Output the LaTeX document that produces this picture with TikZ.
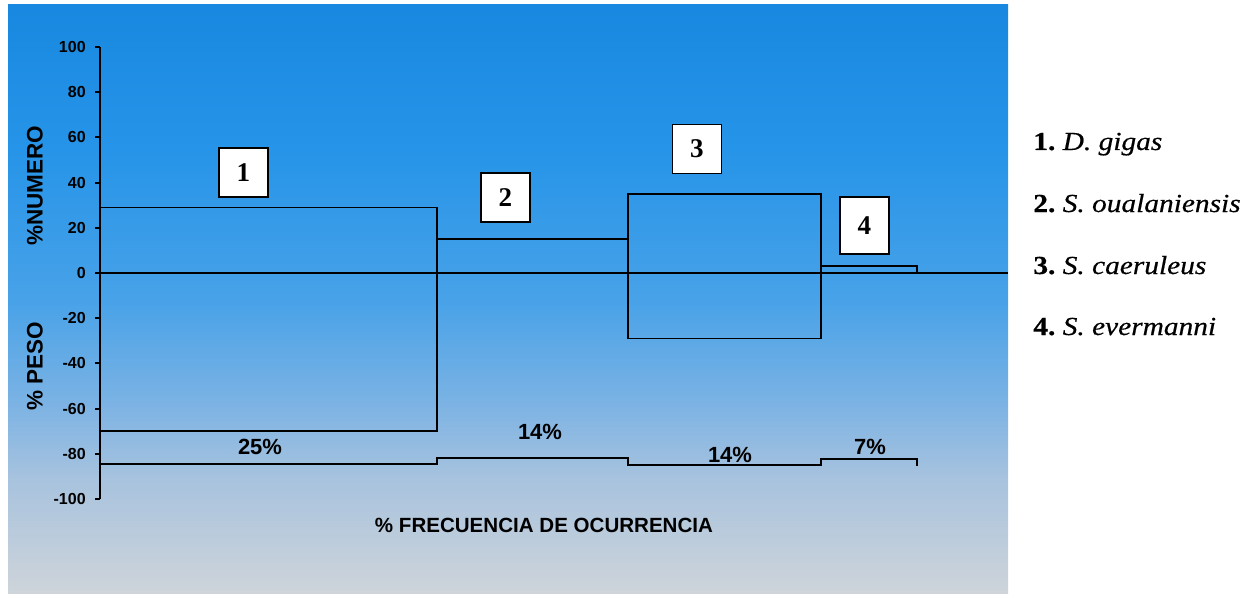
\documentclass[tikz,border=0pt]{standalone}
\usepackage{fontspec}
\setmainfont{Liberation Serif}
\newfontfamily\chartsans{Liberation Sans}
\newfontfamily\specfont[FakeStretch=1.13,FakeBold=0.5]{Liberation Serif}
\usetikzlibrary{positioning}

\definecolor{skytop}{RGB}{24,136,224}
\definecolor{skyhigh}{RGB}{38,148,232}
\definecolor{skymid}{RGB}{72,162,232}
\definecolor{skylow}{RGB}{122,178,228}
\definecolor{skyfade}{RGB}{168,195,222}
\definecolor{skybot}{RGB}{206,212,218}

\pgfdeclareverticalshading{panelfade}{100bp}{color(0bp)=(skybot); color(25bp)=(skybot);
  color(34.6bp)=(skyfade); color(41.4bp)=(skylow); color(49.9bp)=(skymid);
  color(62.7bp)=(skyhigh); color(75bp)=(skytop); color(100bp)=(skytop)}

\tikzset{
  bar/.style={line width=1.1pt},
  tagbox/.style={draw,line width=1.1pt,fill=white,minimum width=0.98cm,minimum height=0.98cm,inner sep=0pt,font=\fontsize{15.4}{15.4}\selectfont\bfseries},
  ticklab/.style={anchor=east,inner sep=0pt,font=\chartsans\bfseries\fontsize{9.1}{9.1}\selectfont},
  pctlab/.style={inner sep=0pt,font=\chartsans\bfseries\fontsize{12.5}{12.5}\selectfont},
  axtitle/.style={inner sep=0pt,rotate=90,font=\chartsans\bfseries\fontsize{12.8}{12.8}\selectfont},
  speclab/.style={anchor=base west,inner sep=0pt,font=\specfont\fontsize{14.8}{14.8}\selectfont}
}

\begin{document}
\begin{tikzpicture}[x=0.02cm,y=-0.02cm]
  \useasboundingbox (0,0) rectangle (1257,598);
  \shade[shading=panelfade] (8,5) rectangle (1008,593);

  % chart, y in data units
  \begin{scope}[shift={(0,273)},y=0.0452cm]
    \draw[bar] (100,100) -- (100,-100);
    \foreach \v [count=\i] in {-100,-80,...,100} {
      \draw[bar] (95,\v) -- (100,\v);
      \node[ticklab] (tick\i) at (86,\v) {\v};
    }
    \draw[bar] (100,0) -- (1008,0);

    \draw[bar] (100,-70) rectangle (437,29);
    \draw[bar] (437,15) -- (628,15);
    \draw[bar] (628,-29) rectangle (821,35);
    \draw[bar] (821,3) -- (917,3) -- (917,0);

    % frecuencia
    \draw[bar] (100,-84.5) -- (437,-84.5) -- (437,-82) -- (628,-82) -- (628,-85)
      -- (821,-85) -- (821,-82.3) -- (917,-82.3) -- (917,-85.2);
  \end{scope}

  \node[pctlab] (pct1) at (260,447) {25\%};
  \node[pctlab] (pct2) at (540,432) {14\%};
  \node[pctlab] (pct3) at (730,455) {14\%};
  \node[pctlab] (pct4) at (870,447) {7\%};

  \node[tagbox] (tag1) at (243.5,172.5) {1};
  \node[tagbox] (tag2) at (505.5,197.5) {2};
  \node[tagbox] (tag3) at (697,149) {3};
  \node[tagbox,minimum height=1.14cm] (tag4) at (864.5,225.5) {4};

  \node[axtitle] (numero) at (35,186) {\%NUMERO};
  \node[axtitle] (peso) at (35,366) {\% PESO};
  \node[inner sep=0pt,font=\chartsans\bfseries\fontsize{11.7}{11.7}\selectfont] (frec) at (544,525) {\% FRECUENCIA DE OCURRENCIA};

  \node[speclab] (sp1) at (1033,150) {\textbf{1.}\ \textit{D. gigas}};
  \node[speclab] (sp2) at (1033,212) {\textbf{2.}\ \textit{S. oualaniensis}};
  \node[speclab] (sp3) at (1033,274) {\textbf{3.}\ \textit{S. caeruleus}};
  \node[speclab] (sp4) at (1033,335) {\textbf{4.}\ \textit{S. evermanni}};
\end{tikzpicture}
\end{document}
